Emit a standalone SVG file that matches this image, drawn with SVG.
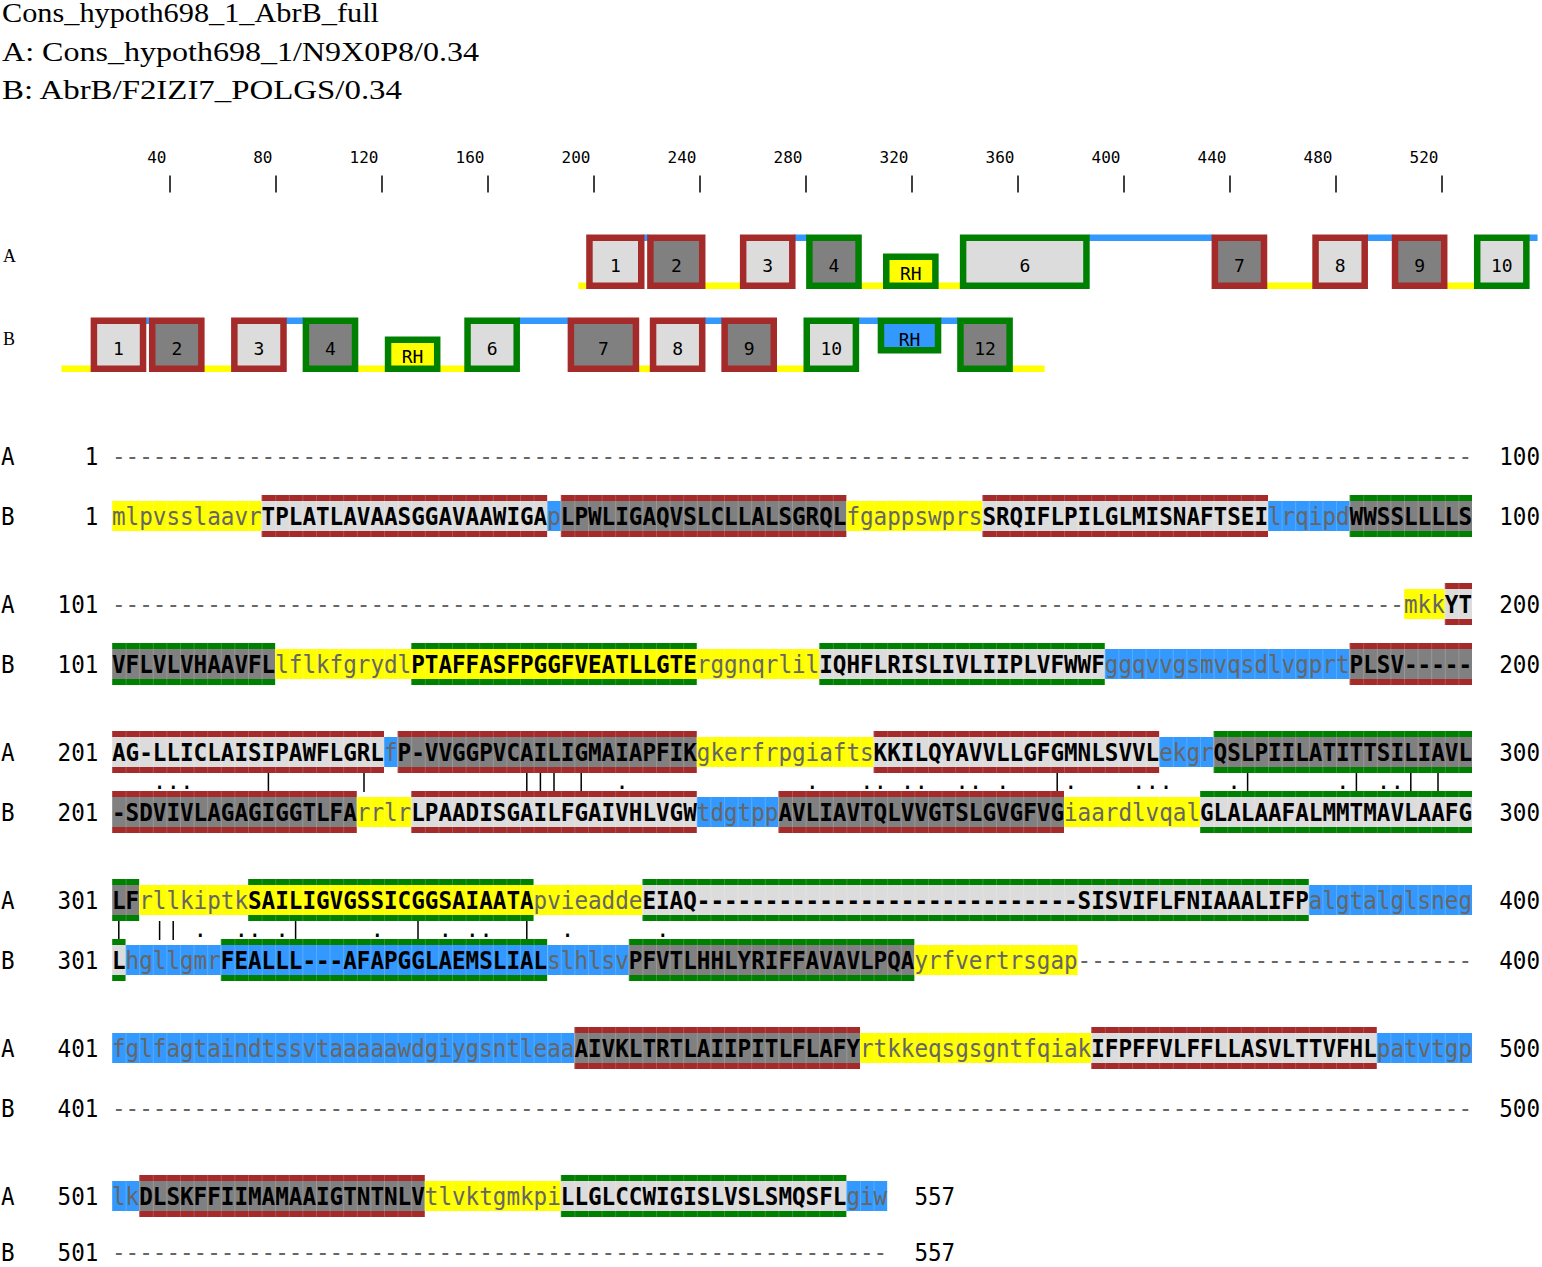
<svg xmlns="http://www.w3.org/2000/svg" width="1542" height="1267" viewBox="0 0 1542 1267">
<style>
.hd{font-family:"Liberation Serif","DejaVu Serif",serif;font-size:27px;fill:#000}
.tl{font-family:"Liberation Serif","DejaVu Serif",serif;font-size:18px;fill:#000}
.rl{font-family:"DejaVu Sans Mono",monospace;font-size:16px;fill:#000;text-anchor:end}
.bl{font-family:"DejaVu Sans Mono",monospace;font-size:18px;fill:#000;text-anchor:middle}
.sq{font-family:"DejaVu Sans Mono",monospace;font-size:22.6px;fill:#000}
.u{font-weight:bold;fill:#000}
.l{font-weight:normal;fill:#666}
.mk{font-family:"DejaVu Sans Mono",monospace;font-size:22.6px;fill:#000;text-anchor:middle}
.fy{fill:#ffff00}.fb{fill:#3399ff}.fl{fill:#dcdcdc}.fd{fill:#808080}
.sr{fill:#a52a2a}.sg{fill:#008000}
.gr{fill:url(#grid)}
.br{stroke:#a52a2a;stroke-width:6.5}.bg{stroke:#008000;stroke-width:6.5}
.tk{stroke:#000;stroke-width:1.5}
.ml{stroke:#000;stroke-width:1.5}
</style>
<defs>
<pattern id="grid" patternUnits="userSpaceOnUse" x="112" y="0" width="13.6" height="1267"><rect x="0" y="0" width="0.8" height="1267" fill="#fff" fill-opacity="0.22"/></pattern>
</defs>
<rect x="0" y="0" width="1542" height="1267" fill="#fff"/>

<g id="header">
<text class="hd" x="2" y="22" textLength="377" lengthAdjust="spacingAndGlyphs">Cons_hypoth698_1_AbrB_full</text>
<text class="hd" x="2" y="61" textLength="477" lengthAdjust="spacingAndGlyphs">A: Cons_hypoth698_1/N9X0P8/0.34</text>
<text class="hd" x="2" y="99" textLength="400" lengthAdjust="spacingAndGlyphs">B: AbrB/F2IZI7_POLGS/0.34</text>
</g>

<g id="ruler">
<text class="rl" x="166.5" y="163">40</text><line class="tk" x1="170" y1="175.5" x2="170" y2="192.5"/>
<text class="rl" x="272.5" y="163">80</text><line class="tk" x1="276" y1="175.5" x2="276" y2="192.5"/>
<text class="rl" x="378.5" y="163">120</text><line class="tk" x1="382" y1="175.5" x2="382" y2="192.5"/>
<text class="rl" x="484.5" y="163">160</text><line class="tk" x1="488" y1="175.5" x2="488" y2="192.5"/>
<text class="rl" x="590.5" y="163">200</text><line class="tk" x1="594" y1="175.5" x2="594" y2="192.5"/>
<text class="rl" x="696.5" y="163">240</text><line class="tk" x1="700" y1="175.5" x2="700" y2="192.5"/>
<text class="rl" x="802.5" y="163">280</text><line class="tk" x1="806" y1="175.5" x2="806" y2="192.5"/>
<text class="rl" x="908.5" y="163">320</text><line class="tk" x1="912" y1="175.5" x2="912" y2="192.5"/>
<text class="rl" x="1014.5" y="163">360</text><line class="tk" x1="1018" y1="175.5" x2="1018" y2="192.5"/>
<text class="rl" x="1120.5" y="163">400</text><line class="tk" x1="1124" y1="175.5" x2="1124" y2="192.5"/>
<text class="rl" x="1226.5" y="163">440</text><line class="tk" x1="1230" y1="175.5" x2="1230" y2="192.5"/>
<text class="rl" x="1332.5" y="163">480</text><line class="tk" x1="1336" y1="175.5" x2="1336" y2="192.5"/>
<text class="rl" x="1438.5" y="163">520</text><line class="tk" x1="1442" y1="175.5" x2="1442" y2="192.5"/>
</g>

<g id="connectors">
<g id="topoA-lines">
<rect class="fy" x="578.25" y="282.5" width="9" height="6.5"/>
<rect class="fb" x="643.5" y="234.5" width="5" height="6.5"/>
<rect class="fy" x="704.5" y="282.5" width="36.5" height="6.5"/>
<rect class="fb" x="794.5" y="234.5" width="12.5" height="6.5"/>
<rect class="fy" x="861" y="282.5" width="23" height="6.5"/>
<rect class="fy" x="938" y="282.5" width="22.5" height="6.5"/>
<rect class="fb" x="1089" y="234.5" width="123.5" height="6.5"/>
<rect class="fy" x="1266.5" y="282.5" width="46.5" height="6.5"/>
<rect class="fb" x="1367" y="234.5" width="25.5" height="6.5"/>
<rect class="fy" x="1446.5" y="282.5" width="28" height="6.5"/>
<rect class="fb" x="1529" y="234.5" width="8.55" height="6.5"/>
</g>
<g id="topoB-lines">
<rect class="fy" x="61.5" y="365.5" width="30" height="6.5"/>
<rect class="fb" x="145.5" y="317.5" width="4" height="6.5"/>
<rect class="fy" x="204" y="365.5" width="28" height="6.5"/>
<rect class="fb" x="286" y="317.5" width="17.5" height="6.5"/>
<rect class="fy" x="357.5" y="365.5" width="28" height="6.5"/>
<rect class="fy" x="439.5" y="365.5" width="25.5" height="6.5"/>
<rect class="fb" x="519" y="317.5" width="49.5" height="6.5"/>
<rect class="fy" x="638.5" y="365.5" width="12" height="6.5"/>
<rect class="fb" x="704.5" y="317.5" width="17.5" height="6.5"/>
<rect class="fy" x="776" y="365.5" width="28" height="6.5"/>
<rect class="fb" x="858.5" y="317.5" width="20" height="6.5"/>
<rect class="fb" x="940.5" y="317.5" width="17.5" height="6.5"/>
<rect class="fy" x="1012" y="365.5" width="32.65" height="6.5"/>
</g>
<g id="match-lines">
<line class="ml" x1="268.4" y1="773" x2="268.4" y2="792"/>
<line class="ml" x1="364" y1="773" x2="364" y2="792"/>
<line class="ml" x1="526.8" y1="773" x2="526.8" y2="792"/>
<line class="ml" x1="540.4" y1="773" x2="540.4" y2="792"/>
<line class="ml" x1="554" y1="773" x2="554" y2="792"/>
<line class="ml" x1="581.2" y1="773" x2="581.2" y2="792"/>
<line class="ml" x1="1057.2" y1="773" x2="1057.2" y2="792"/>
<line class="ml" x1="1247.6" y1="773" x2="1247.6" y2="792"/>
<line class="ml" x1="1356.4" y1="773" x2="1356.4" y2="792"/>
<line class="ml" x1="1410.8" y1="773" x2="1410.8" y2="792"/>
<line class="ml" x1="1438" y1="773" x2="1438" y2="792"/>
<line class="ml" x1="118.8" y1="921" x2="118.8" y2="940"/>
<line class="ml" x1="159.6" y1="921" x2="159.6" y2="940"/>
<line class="ml" x1="173.2" y1="921" x2="173.2" y2="940"/>
<line class="ml" x1="295.6" y1="921" x2="295.6" y2="940"/>
<line class="ml" x1="418" y1="921" x2="418" y2="940"/>
<line class="ml" x1="526.8" y1="921" x2="526.8" y2="940"/>
</g>
</g>

<g id="topoA">
<text class="tl" x="3" y="262">A</text>
<g id="A1"><rect class="fl br" x="589.45" y="237.75" width="51.8" height="48"/><text class="bl" x="615.35" y="271.75">1</text></g>
<g id="A2"><rect class="fd br" x="650.4" y="237.75" width="51.8" height="48"/><text class="bl" x="676.3" y="271.75">2</text></g>
<g id="A3"><rect class="fl br" x="743.15" y="237.75" width="49.15" height="48"/><text class="bl" x="767.7" y="271.75">3</text></g>
<g id="A4"><rect class="fd bg" x="809.4" y="237.75" width="49.15" height="48"/><text class="bl" x="834" y="271.75">4</text></g>
<g id="ARH"><rect class="fy bg" x="886.25" y="256.75" width="49.15" height="29"/><text class="bl" x="910.8" y="280">RH</text></g>
<g id="A6"><rect class="fl bg" x="963.1" y="237.75" width="123.35" height="48"/><text class="bl" x="1024.8" y="271.75">6</text></g>
<g id="A7"><rect class="fd br" x="1214.85" y="237.75" width="49.15" height="48"/><text class="bl" x="1239.4" y="271.75">7</text></g>
<g id="A8"><rect class="fl br" x="1315.55" y="237.75" width="49.15" height="48"/><text class="bl" x="1340.1" y="271.75">8</text></g>
<g id="A9"><rect class="fd br" x="1395.05" y="237.75" width="49.15" height="48"/><text class="bl" x="1419.6" y="271.75">9</text></g>
<g id="A10"><rect class="fl bg" x="1477.2" y="237.75" width="49.15" height="48"/><text class="bl" x="1501.8" y="271.75">10</text></g>
</g>

<g id="topoB">
<text class="tl" x="3" y="345">B</text>
<g id="B1"><rect class="fl br" x="93.9" y="320.75" width="49.15" height="48"/><text class="bl" x="118.5" y="354.75">1</text></g>
<g id="B2"><rect class="fd br" x="152.2" y="320.75" width="49.15" height="48"/><text class="bl" x="176.8" y="354.75">2</text></g>
<g id="B3"><rect class="fl br" x="234.35" y="320.75" width="49.15" height="48"/><text class="bl" x="258.9" y="354.75">3</text></g>
<g id="B4"><rect class="fd bg" x="305.9" y="320.75" width="49.15" height="48"/><text class="bl" x="330.5" y="354.75">4</text></g>
<g id="BRH1"><rect class="fy bg" x="388.05" y="339.75" width="49.15" height="29"/><text class="bl" x="412.6" y="363">RH</text></g>
<g id="B6"><rect class="fl bg" x="467.55" y="320.75" width="49.15" height="48"/><text class="bl" x="492.1" y="354.75">6</text></g>
<g id="B7"><rect class="fd br" x="570.9" y="320.75" width="65.05" height="48"/><text class="bl" x="603.4" y="354.75">7</text></g>
<g id="B8"><rect class="fl br" x="653.05" y="320.75" width="49.15" height="48"/><text class="bl" x="677.6" y="354.75">8</text></g>
<g id="B9"><rect class="fd br" x="724.6" y="320.75" width="49.15" height="48"/><text class="bl" x="749.2" y="354.75">9</text></g>
<g id="B10"><rect class="fl bg" x="806.75" y="320.75" width="49.15" height="48"/><text class="bl" x="831.3" y="354.75">10</text></g>
<g id="BRH2"><rect class="fb bg" x="880.95" y="320.75" width="57.1" height="29.5"/><text class="bl" x="909.5" y="346">RH</text></g>
<g id="B12"><rect class="fd bg" x="960.45" y="320.75" width="49.15" height="48"/><text class="bl" x="985" y="354.75">12</text></g>
</g>

<g id="alignment">
<!-- Row 1 -->
<g id="row1A">
<text class="sq" transform="scale(1 1.1)" x="1" y="422.727" textLength="13.6" lengthAdjust="spacingAndGlyphs">A</text>
<text class="sq" transform="scale(1 1.1)" x="84.8" y="422.727" textLength="13.6" lengthAdjust="spacingAndGlyphs">1</text>
<text class="sq" transform="scale(1 1.1)" x="112" y="422.727" textLength="1360" lengthAdjust="spacingAndGlyphs"><tspan class="l">----------------------------------------------------------------------------------------------------</tspan></text>
<text class="sq" transform="scale(1 1.1)" x="1499.2" y="422.727" textLength="40.8" lengthAdjust="spacingAndGlyphs">100</text>
</g>
<g id="row1B">
<rect class="fy" x="112" y="501" width="149.6" height="30"/>
<rect class="fl" x="261.6" y="501" width="285.6" height="30"/><rect class="sr" x="261.6" y="495" width="285.6" height="6"/><rect class="sr" x="261.6" y="531" width="285.6" height="6"/>
<rect class="fb" x="547.2" y="501" width="13.6" height="30"/>
<rect class="fd" x="560.8" y="501" width="285.6" height="30"/><rect class="sr" x="560.8" y="495" width="285.6" height="6"/><rect class="sr" x="560.8" y="531" width="285.6" height="6"/>
<rect class="fy" x="846.4" y="501" width="136" height="30"/>
<rect class="fl" x="982.4" y="501" width="285.6" height="30"/><rect class="sr" x="982.4" y="495" width="285.6" height="6"/><rect class="sr" x="982.4" y="531" width="285.6" height="6"/>
<rect class="fb" x="1268" y="501" width="81.6" height="30"/>
<rect class="fd" x="1349.6" y="501" width="122.4" height="30"/><rect class="sg" x="1349.6" y="495" width="122.4" height="6"/><rect class="sg" x="1349.6" y="531" width="122.4" height="6"/>
<rect class="gr" x="112" y="495" width="1360" height="42"/>
<text class="sq" transform="scale(1 1.1)" x="1" y="477.273" textLength="13.6" lengthAdjust="spacingAndGlyphs">B</text>
<text class="sq" transform="scale(1 1.1)" x="84.8" y="477.273" textLength="13.6" lengthAdjust="spacingAndGlyphs">1</text>
<text class="sq" transform="scale(1 1.1)" x="112" y="477.273" textLength="1360" lengthAdjust="spacingAndGlyphs"><tspan class="l">mlpvsslaavr</tspan><tspan class="u">TPLATLAVAASGGAVAAWIGA</tspan><tspan class="l">p</tspan><tspan class="u">LPWLIGAQVSLCLLALSGRQL</tspan><tspan class="l">fgappswprs</tspan><tspan class="u">SRQIFLPILGLMISNAFTSEI</tspan><tspan class="l">lrqipd</tspan><tspan class="u">WWSSLLLLS</tspan></text>
<text class="sq" transform="scale(1 1.1)" x="1499.2" y="477.273" textLength="40.8" lengthAdjust="spacingAndGlyphs">100</text>
</g>

<!-- Row 2 -->
<g id="row2A">
<rect class="fy" x="1404" y="589" width="40.8" height="30"/>
<rect class="fl" x="1444.8" y="589" width="27.2" height="30"/><rect class="sr" x="1444.8" y="583" width="27.2" height="6"/><rect class="sr" x="1444.8" y="619" width="27.2" height="6"/>
<rect class="gr" x="1404" y="583" width="68" height="42"/>
<text class="sq" transform="scale(1 1.1)" x="1" y="557.273" textLength="13.6" lengthAdjust="spacingAndGlyphs">A</text>
<text class="sq" transform="scale(1 1.1)" x="57.6" y="557.273" textLength="40.8" lengthAdjust="spacingAndGlyphs">101</text>
<text class="sq" transform="scale(1 1.1)" x="112" y="557.273" textLength="1360" lengthAdjust="spacingAndGlyphs"><tspan class="l">-----------------------------------------------------------------------------------------------mkk</tspan><tspan class="u">YT</tspan></text>
<text class="sq" transform="scale(1 1.1)" x="1499.2" y="557.273" textLength="40.8" lengthAdjust="spacingAndGlyphs">200</text>
</g>
<g id="row2B">
<rect class="fd" x="112" y="649" width="163.2" height="30"/><rect class="sg" x="112" y="643" width="163.2" height="6"/><rect class="sg" x="112" y="679" width="163.2" height="6"/>
<rect class="fy" x="275.2" y="649" width="136" height="30"/>
<rect class="fy" x="411.2" y="649" width="285.6" height="30"/><rect class="sg" x="411.2" y="643" width="285.6" height="6"/><rect class="sg" x="411.2" y="679" width="285.6" height="6"/>
<rect class="fy" x="696.8" y="649" width="122.4" height="30"/>
<rect class="fl" x="819.2" y="649" width="285.6" height="30"/><rect class="sg" x="819.2" y="643" width="285.6" height="6"/><rect class="sg" x="819.2" y="679" width="285.6" height="6"/>
<rect class="fb" x="1104.8" y="649" width="244.8" height="30"/>
<rect class="fd" x="1349.6" y="649" width="122.4" height="30"/><rect class="sr" x="1349.6" y="643" width="122.4" height="6"/><rect class="sr" x="1349.6" y="679" width="122.4" height="6"/>
<rect class="gr" x="112" y="643" width="1360" height="42"/>
<text class="sq" transform="scale(1 1.1)" x="1" y="611.818" textLength="13.6" lengthAdjust="spacingAndGlyphs">B</text>
<text class="sq" transform="scale(1 1.1)" x="57.6" y="611.818" textLength="40.8" lengthAdjust="spacingAndGlyphs">101</text>
<text class="sq" transform="scale(1 1.1)" x="112" y="611.818" textLength="1360" lengthAdjust="spacingAndGlyphs"><tspan class="u">VFLVLVHAAVFL</tspan><tspan class="l">lflkfgrydl</tspan><tspan class="u">PTAFFASFPGGFVEATLLGTE</tspan><tspan class="l">rggnqrlil</tspan><tspan class="u">IQHFLRISLIVLIIPLVFWWF</tspan><tspan class="l">ggqvvgsmvqsdlvgprt</tspan><tspan class="u">PLSV-----</tspan></text>
<text class="sq" transform="scale(1 1.1)" x="1499.2" y="611.818" textLength="40.8" lengthAdjust="spacingAndGlyphs">200</text>
</g>

<!-- Row 3 -->
<g id="row3A">
<rect class="fl" x="112" y="737" width="272" height="30"/><rect class="sr" x="112" y="731" width="272" height="6"/><rect class="sr" x="112" y="767" width="272" height="6"/>
<rect class="fb" x="384" y="737" width="13.6" height="30"/>
<rect class="fd" x="397.6" y="737" width="299.2" height="30"/><rect class="sr" x="397.6" y="731" width="299.2" height="6"/><rect class="sr" x="397.6" y="767" width="299.2" height="6"/>
<rect class="fy" x="696.8" y="737" width="176.8" height="30"/>
<rect class="fl" x="873.6" y="737" width="285.6" height="30"/><rect class="sr" x="873.6" y="731" width="285.6" height="6"/><rect class="sr" x="873.6" y="767" width="285.6" height="6"/>
<rect class="fb" x="1159.2" y="737" width="54.4" height="30"/>
<rect class="fd" x="1213.6" y="737" width="258.4" height="30"/><rect class="sg" x="1213.6" y="731" width="258.4" height="6"/><rect class="sg" x="1213.6" y="767" width="258.4" height="6"/>
<rect class="gr" x="112" y="731" width="1360" height="42"/>
<text class="sq" transform="scale(1 1.1)" x="1" y="691.818" textLength="13.6" lengthAdjust="spacingAndGlyphs">A</text>
<text class="sq" transform="scale(1 1.1)" x="57.6" y="691.818" textLength="40.8" lengthAdjust="spacingAndGlyphs">201</text>
<text class="sq" transform="scale(1 1.1)" x="112" y="691.818" textLength="1360" lengthAdjust="spacingAndGlyphs"><tspan class="u">AG-LLICLAISIPAWFLGRL</tspan><tspan class="l">f</tspan><tspan class="u">P-VVGGPVCAILIGMAIAPFIK</tspan><tspan class="l">gkerfrpgiafts</tspan><tspan class="u">KKILQYAVVLLGFGMNLSVVL</tspan><tspan class="l">ekgr</tspan><tspan class="u">QSLPIILATITTSILIAVL</tspan></text>
<text class="sq" transform="scale(1 1.1)" x="1499.2" y="691.818" textLength="40.8" lengthAdjust="spacingAndGlyphs">300</text>
</g>
<text class="mk" x="159.6 173.2 186.8 622 812.4 866.8 880.4 907.6 921.2 962 975.6 1002.8 1070.8 1138.8 1152.4 1166 1234 1342.8 1383.6 1397.2" y="789">....................</text>
<g id="row3B">
<rect class="fd" x="112" y="797" width="244.8" height="30"/><rect class="sr" x="112" y="791" width="244.8" height="6"/><rect class="sr" x="112" y="827" width="244.8" height="6"/>
<rect class="fy" x="356.8" y="797" width="54.4" height="30"/>
<rect class="fl" x="411.2" y="797" width="285.6" height="30"/><rect class="sr" x="411.2" y="791" width="285.6" height="6"/><rect class="sr" x="411.2" y="827" width="285.6" height="6"/>
<rect class="fb" x="696.8" y="797" width="81.6" height="30"/>
<rect class="fd" x="778.4" y="797" width="285.6" height="30"/><rect class="sr" x="778.4" y="791" width="285.6" height="6"/><rect class="sr" x="778.4" y="827" width="285.6" height="6"/>
<rect class="fy" x="1064" y="797" width="136" height="30"/>
<rect class="fl" x="1200" y="797" width="272" height="30"/><rect class="sg" x="1200" y="791" width="272" height="6"/><rect class="sg" x="1200" y="827" width="272" height="6"/>
<rect class="gr" x="112" y="791" width="1360" height="42"/>
<text class="sq" transform="scale(1 1.1)" x="1" y="746.364" textLength="13.6" lengthAdjust="spacingAndGlyphs">B</text>
<text class="sq" transform="scale(1 1.1)" x="57.6" y="746.364" textLength="40.8" lengthAdjust="spacingAndGlyphs">201</text>
<text class="sq" transform="scale(1 1.1)" x="112" y="746.364" textLength="1360" lengthAdjust="spacingAndGlyphs"><tspan class="u">-SDVIVLAGAGIGGTLFA</tspan><tspan class="l">rrlr</tspan><tspan class="u">LPAADISGAILFGAIVHLVGW</tspan><tspan class="l">tdgtpp</tspan><tspan class="u">AVLIAVTQLVVGTSLGVGFVG</tspan><tspan class="l">iaardlvqal</tspan><tspan class="u">GLALAAFALMMTMAVLAAFG</tspan></text>
<text class="sq" transform="scale(1 1.1)" x="1499.2" y="746.364" textLength="40.8" lengthAdjust="spacingAndGlyphs">300</text>
</g>

<!-- Row 4 -->
<g id="row4A">
<rect class="fd" x="112" y="885" width="27.2" height="30"/><rect class="sg" x="112" y="879" width="27.2" height="6"/><rect class="sg" x="112" y="915" width="27.2" height="6"/>
<rect class="fy" x="139.2" y="885" width="108.8" height="30"/>
<rect class="fy" x="248" y="885" width="285.6" height="30"/><rect class="sg" x="248" y="879" width="285.6" height="6"/><rect class="sg" x="248" y="915" width="285.6" height="6"/>
<rect class="fy" x="533.6" y="885" width="108.8" height="30"/>
<rect class="fl" x="642.4" y="885" width="666.4" height="30"/><rect class="sg" x="642.4" y="879" width="666.4" height="6"/><rect class="sg" x="642.4" y="915" width="666.4" height="6"/>
<rect class="fb" x="1308.8" y="885" width="163.2" height="30"/>
<rect class="gr" x="112" y="879" width="1360" height="42"/>
<text class="sq" transform="scale(1 1.1)" x="1" y="826.364" textLength="13.6" lengthAdjust="spacingAndGlyphs">A</text>
<text class="sq" transform="scale(1 1.1)" x="57.6" y="826.364" textLength="40.8" lengthAdjust="spacingAndGlyphs">301</text>
<text class="sq" transform="scale(1 1.1)" x="112" y="826.364" textLength="1360" lengthAdjust="spacingAndGlyphs"><tspan class="u">LF</tspan><tspan class="l">rllkiptk</tspan><tspan class="u">SAILIGVGSSICGGSAIAATA</tspan><tspan class="l">pvieadde</tspan><tspan class="u">EIAQ----------------------------SISVIFLFNIAAALIFP</tspan><tspan class="l">algtalglsneg</tspan></text>
<text class="sq" transform="scale(1 1.1)" x="1499.2" y="826.364" textLength="40.8" lengthAdjust="spacingAndGlyphs">400</text>
</g>
<text class="mk" x="200.4 241.2 254.8 282 377.2 445.2 472.4 486 567.6 662.8" y="937">..........</text>
<g id="row4B">
<rect class="fl" x="112" y="945" width="13.6" height="30"/><rect class="sg" x="112" y="939" width="13.6" height="6"/><rect class="sg" x="112" y="975" width="13.6" height="6"/>
<rect class="fb" x="125.6" y="945" width="95.2" height="30"/>
<rect class="fb" x="220.8" y="945" width="326.4" height="30"/><rect class="sg" x="220.8" y="939" width="326.4" height="6"/><rect class="sg" x="220.8" y="975" width="326.4" height="6"/>
<rect class="fb" x="547.2" y="945" width="81.6" height="30"/>
<rect class="fd" x="628.8" y="945" width="285.6" height="30"/><rect class="sg" x="628.8" y="939" width="285.6" height="6"/><rect class="sg" x="628.8" y="975" width="285.6" height="6"/>
<rect class="fy" x="914.4" y="945" width="163.2" height="30"/>
<rect class="gr" x="112" y="939" width="965.6" height="42"/>
<text class="sq" transform="scale(1 1.1)" x="1" y="880.909" textLength="13.6" lengthAdjust="spacingAndGlyphs">B</text>
<text class="sq" transform="scale(1 1.1)" x="57.6" y="880.909" textLength="40.8" lengthAdjust="spacingAndGlyphs">301</text>
<text class="sq" transform="scale(1 1.1)" x="112" y="880.909" textLength="1360" lengthAdjust="spacingAndGlyphs"><tspan class="u">L</tspan><tspan class="l">hgllgmr</tspan><tspan class="u">FEALLL---AFAPGGLAEMSLIAL</tspan><tspan class="l">slhlsv</tspan><tspan class="u">PFVTLHHLYRIFFAVAVLPQA</tspan><tspan class="l">yrfvertrsgap-----------------------------</tspan></text>
<text class="sq" transform="scale(1 1.1)" x="1499.2" y="880.909" textLength="40.8" lengthAdjust="spacingAndGlyphs">400</text>
</g>

<!-- Row 5 -->
<g id="row5A">
<rect class="fb" x="112" y="1033" width="462.4" height="30"/>
<rect class="fd" x="574.4" y="1033" width="285.6" height="30"/><rect class="sr" x="574.4" y="1027" width="285.6" height="6"/><rect class="sr" x="574.4" y="1063" width="285.6" height="6"/>
<rect class="fy" x="860" y="1033" width="231.2" height="30"/>
<rect class="fl" x="1091.2" y="1033" width="285.6" height="30"/><rect class="sr" x="1091.2" y="1027" width="285.6" height="6"/><rect class="sr" x="1091.2" y="1063" width="285.6" height="6"/>
<rect class="fb" x="1376.8" y="1033" width="95.2" height="30"/>
<rect class="gr" x="112" y="1027" width="1360" height="42"/>
<text class="sq" transform="scale(1 1.1)" x="1" y="960.909" textLength="13.6" lengthAdjust="spacingAndGlyphs">A</text>
<text class="sq" transform="scale(1 1.1)" x="57.6" y="960.909" textLength="40.8" lengthAdjust="spacingAndGlyphs">401</text>
<text class="sq" transform="scale(1 1.1)" x="112" y="960.909" textLength="1360" lengthAdjust="spacingAndGlyphs"><tspan class="l">fglfagtaindtssvtaaaaawdgiygsntleaa</tspan><tspan class="u">AIVKLTRTLAIIPITLFLAFY</tspan><tspan class="l">rtkkeqsgsgntfqiak</tspan><tspan class="u">IFPFFVLFFLLASVLTTVFHL</tspan><tspan class="l">patvtgp</tspan></text>
<text class="sq" transform="scale(1 1.1)" x="1499.2" y="960.909" textLength="40.8" lengthAdjust="spacingAndGlyphs">500</text>
</g>
<g id="row5B">
<text class="sq" transform="scale(1 1.1)" x="1" y="1015.455" textLength="13.6" lengthAdjust="spacingAndGlyphs">B</text>
<text class="sq" transform="scale(1 1.1)" x="57.6" y="1015.455" textLength="40.8" lengthAdjust="spacingAndGlyphs">401</text>
<text class="sq" transform="scale(1 1.1)" x="112" y="1015.455" textLength="1360" lengthAdjust="spacingAndGlyphs"><tspan class="l">----------------------------------------------------------------------------------------------------</tspan></text>
<text class="sq" transform="scale(1 1.1)" x="1499.2" y="1015.455" textLength="40.8" lengthAdjust="spacingAndGlyphs">500</text>
</g>

<!-- Row 6 -->
<g id="row6A">
<rect class="fb" x="112" y="1181" width="27.2" height="30"/>
<rect class="fd" x="139.2" y="1181" width="285.6" height="30"/><rect class="sr" x="139.2" y="1175" width="285.6" height="6"/><rect class="sr" x="139.2" y="1211" width="285.6" height="6"/>
<rect class="fy" x="424.8" y="1181" width="136" height="30"/>
<rect class="fl" x="560.8" y="1181" width="285.6" height="30"/><rect class="sg" x="560.8" y="1175" width="285.6" height="6"/><rect class="sg" x="560.8" y="1211" width="285.6" height="6"/>
<rect class="fb" x="846.4" y="1181" width="40.8" height="30"/>
<rect class="gr" x="112" y="1175" width="775.2" height="42"/>
<text class="sq" transform="scale(1 1.1)" x="1" y="1095.455" textLength="13.6" lengthAdjust="spacingAndGlyphs">A</text>
<text class="sq" transform="scale(1 1.1)" x="57.6" y="1095.455" textLength="40.8" lengthAdjust="spacingAndGlyphs">501</text>
<text class="sq" transform="scale(1 1.1)" x="112" y="1095.455" textLength="775.2" lengthAdjust="spacingAndGlyphs"><tspan class="l">lk</tspan><tspan class="u">DLSKFFIIMAMAAIGTNTNLV</tspan><tspan class="l">tlvktgmkpi</tspan><tspan class="u">LLGLCCWIGISLVSLSMQSFL</tspan><tspan class="l">giw</tspan></text>
<text class="sq" transform="scale(1 1.1)" x="914.4" y="1095.455" textLength="40.8" lengthAdjust="spacingAndGlyphs">557</text>
</g>
<g id="row6B">
<text class="sq" transform="scale(1 1.1)" x="1" y="1146.364" textLength="13.6" lengthAdjust="spacingAndGlyphs">B</text>
<text class="sq" transform="scale(1 1.1)" x="57.6" y="1146.364" textLength="40.8" lengthAdjust="spacingAndGlyphs">501</text>
<text class="sq" transform="scale(1 1.1)" x="112" y="1146.364" textLength="775.2" lengthAdjust="spacingAndGlyphs"><tspan class="l">---------------------------------------------------------</tspan></text>
<text class="sq" transform="scale(1 1.1)" x="914.4" y="1146.364" textLength="40.8" lengthAdjust="spacingAndGlyphs">557</text>
</g>
</g>
</svg>
